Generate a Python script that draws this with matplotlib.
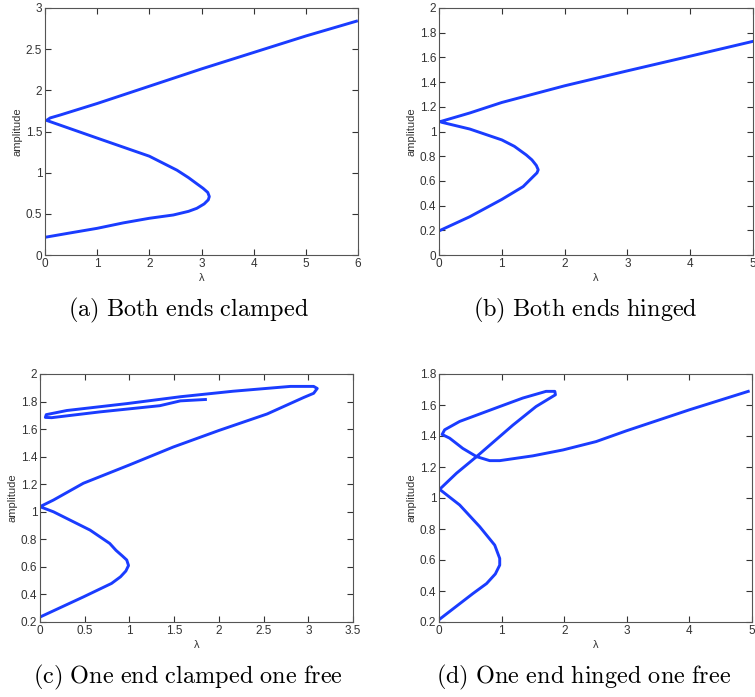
import matplotlib
matplotlib.use('Agg')
import matplotlib.pyplot as plt

plt.rcParams['mathtext.fontset'] = 'cm'
plt.rcParams['font.family'] = ['Liberation Sans', 'DejaVu Sans']

# (a) both ends clamped
lam_a = [0.0, 0.5, 1.0, 1.5, 2.0, 2.46, 2.75, 2.91, 3.05, 3.13, 3.15, 3.12, 3.03, 2.9, 2.75, 2.53,
         2.0, 1.0, 0.03,
         0.1, 0.29, 1.0, 2.0, 3.0, 4.0, 5.0, 5.97]
amp_a = [0.215, 0.27, 0.324, 0.39, 0.446, 0.486, 0.53, 0.567, 0.62, 0.67, 0.71, 0.76, 0.81, 0.87, 0.94, 1.03,
         1.20, 1.42, 1.635,
         1.665, 1.70, 1.84, 2.05, 2.26, 2.46, 2.66, 2.84]

# (b) both ends hinged
lam_b = [0.0, 0.49, 1.0, 1.34, 1.5, 1.56, 1.58, 1.55, 1.48, 1.39, 1.2, 1.0, 0.49, 0.04,
         0.02, 0.49, 1.0, 2.0, 2.99, 4.0, 5.0]
amp_b = [0.195, 0.31, 0.45, 0.554, 0.635, 0.665, 0.69, 0.725, 0.77, 0.81, 0.88, 0.932, 1.02, 1.075,
         1.08, 1.15, 1.235, 1.37, 1.49, 1.61, 1.73]

# (c) one end clamped one free
lam_c = [0.0, 0.485, 0.8, 0.9, 0.96, 0.99, 0.97, 0.92, 0.85, 0.78, 0.56, 0.15, 0.0,
         0.15, 0.485, 1.0, 1.49, 2.0, 2.54, 2.95, 3.06, 3.1, 3.06, 2.8, 2.16, 1.57, 0.97, 0.3, 0.07,
         0.06, 0.13, 0.67, 1.34, 1.57, 1.85]
amp_c = [0.236, 0.382, 0.48, 0.528, 0.57, 0.61, 0.65, 0.68, 0.72, 0.77, 0.867, 1.0, 1.037,
         1.085, 1.207, 1.34, 1.47, 1.59, 1.71, 1.83, 1.86, 1.895, 1.91, 1.91, 1.875, 1.835, 1.785, 1.735, 1.705,
         1.685, 1.683, 1.725, 1.77, 1.805, 1.815]

# (d) one end hinged one free
lam_d = [0.0, 0.54, 0.76, 0.9, 0.97, 0.97, 0.89, 0.65, 0.33, 0.01,
         0.28, 0.6, 1.18, 1.55, 1.86, 1.85, 1.71, 1.34, 0.97, 0.33, 0.09, 0.05,
         0.17, 0.38, 0.6, 0.81, 0.97, 1.5, 1.98, 2.51, 2.99, 4.0, 4.94]
amp_d = [0.215, 0.383, 0.448, 0.51, 0.567, 0.61, 0.696, 0.815, 0.955, 1.056,
         1.16, 1.267, 1.47, 1.59, 1.666, 1.688, 1.688, 1.645, 1.59, 1.494, 1.44, 1.41,
         1.386, 1.32, 1.267, 1.241, 1.241, 1.272, 1.31, 1.364, 1.433, 1.569, 1.688]

panels = [
    (lam_a, amp_a, (0, 6), (0, 3), [0, 1, 2, 3, 4, 5, 6], [0, 0.5, 1, 1.5, 2, 2.5, 3],
     r'$\mathrm{(a)\ Both\ ends\ clamped}$', [45, 8, 358, 255], (188, 310)),
    (lam_b, amp_b, (0, 5), (0, 2), [0, 1, 2, 3, 4, 5], [0, 0.2, 0.4, 0.6, 0.8, 1, 1.2, 1.4, 1.6, 1.8, 2],
     r'$\mathrm{(b)\ Both\ ends\ hinged}$', [439, 8, 753, 255], (585, 310)),
    (lam_c, amp_c, (0, 3.5), (0.2, 2), [0, 0.5, 1, 1.5, 2, 2.5, 3, 3.5],
     [0.2, 0.4, 0.6, 0.8, 1, 1.2, 1.4, 1.6, 1.8, 2],
     r'$\mathrm{(c)\ One\ end\ clamped\ one\ free}$', [40, 374, 353, 622], (188, 677)),
    (lam_d, amp_d, (0, 5), (0.2, 1.8), [0, 1, 2, 3, 4, 5], [0.2, 0.4, 0.6, 0.8, 1, 1.2, 1.4, 1.6, 1.8],
     r'$\mathrm{(d)\ One\ end\ hinged\ one\ free}$', [439, 374, 752, 622], (584, 677)),
]

W, H = 755, 697
fig = plt.figure(figsize=(W / 100, H / 100), dpi=100)

for lam, amp, xlim, ylim, xt, yt, caption, (x0, y0, x1, y1), (cx, cy) in panels:
    ax = fig.add_axes([x0 / W, 1 - y1 / H, (x1 - x0) / W, (y1 - y0) / H])
    ax.plot(lam, amp, color='#1a3cff', lw=2.1, solid_joinstyle='round')
    ax.set_xlim(*xlim)
    ax.set_ylim(*ylim)
    ax.set_xticks(xt)
    ax.set_yticks(yt)
    ax.set_xticklabels(['%g' % v for v in xt])
    ax.set_yticklabels(['%g' % v for v in yt])
    ax.tick_params(direction='in', top=True, right=True, length=4, width=0.8,
                   labelsize=8.5, colors='#333333', pad=2)
    for s in ax.spines.values():
        s.set_color('#555555')
        s.set_linewidth(0.8)
    ax.set_xlabel('λ', fontsize=8, color='#333333', labelpad=2)
    ax.set_ylabel('amplitude', fontsize=8, color='#333333', labelpad=2)
    # sub-figure caption centred under the whole panel
    fig.text(cx / W, 1 - cy / H, caption, ha='center', va='center', fontsize=17.5)

fig.savefig('out.png', dpi=100)
